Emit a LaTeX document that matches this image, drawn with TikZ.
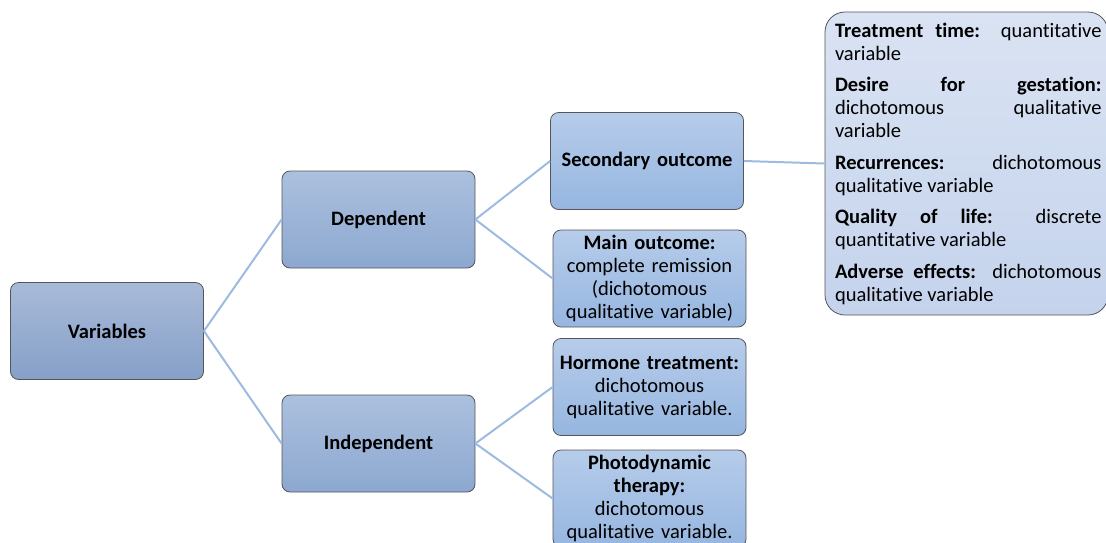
\documentclass[tikz,border=0pt]{standalone}
\usepackage{fontspec}
\setmainfont{Carlito}[Ligatures=NoCommon]
\definecolor{bord}{RGB}{85,85,90}
\definecolor{conn}{RGB}{157,187,224}
\definecolor{aT}{RGB}{168,186,216}
\definecolor{aB}{RGB}{134,160,200}
\definecolor{bT}{RGB}{172,192,222}
\definecolor{bB}{RGB}{140,168,208}
\definecolor{cT}{RGB}{182,204,234}
\definecolor{cB}{RGB}{150,182,224}
\definecolor{dT}{RGB}{218,227,243}
\definecolor{dB}{RGB}{196,211,236}
\tikzset{
  box/.style={draw=bord, line width=0.8pt, rounded corners=8pt, minimum width=193pt, minimum height=97pt,
    inner sep=2pt, text width=189pt, align=center, font=\fontsize{20.5}{23}\selectfont},
  lvA/.style={box, top color=aT, bottom color=aB},
  lvB/.style={box, top color=bT, bottom color=bB},
  lvC/.style={box, top color=cT, bottom color=cB},
  infobox/.style={draw=bord, line width=0.8pt, rounded corners=20pt, top color=dT, bottom color=dB,
    minimum width=283pt, minimum height=303pt, inner xsep=5.5pt, text width=272pt, align=justify,
    font=\fontsize{20.5}{23}\selectfont},
  link/.style={draw=conn, line width=2pt}
}
\begin{document}
\begin{tikzpicture}[x=1pt,y=-1pt]
\useasboundingbox (0,0) rectangle (1106,542);
\clip (0,0) rectangle (1106,542);
\node[lvA] (var) at (107,331) {\textbf{Variables}};
\node[lvB] (dep) at (378.5,219.5) {\textbf{Dependent}};
\node[lvB] (ind) at (378.5,443.5) {\textbf{Independent}};
\node[lvC] (sec) at (647,161) {\textbf{Secondary outcome}};
\node[lvC] (main) at (649.5,278.5) {\textbf{Main outcome:}\\complete remission\\(dichotomous\\qualitative variable)};
\node[lvC] (horm) at (649.5,387) {\textbf{Hormone treatment:}\\dichotomous\\qualitative variable.};
\node[lvC] (photo) at (649.5,498.5) {\textbf{Photodynamic}\\\textbf{therapy:}\\dichotomous\\qualitative variable.};
\node[infobox] (info) at (966.5,163.5) {\hyphenpenalty=10000\exhyphenpenalty=10000\leftskip=4.5pt\rightskip=1pt\setlength{\parskip}{8.5pt}%
\textbf{Treatment time:} quantitative variable\par
\textbf{Desire for gestation:} dichotomous qualitative variable\par
\textbf{Recurrences:} dichotomous qualitative variable\par
\textbf{Quality of life:} discrete quantitative variable\par
\textbf{Adverse effects:} dichotomous qualitative variable\par};
\draw[link] (var.east) -- (dep.west);
\draw[link] (var.east) -- (ind.west);
\draw[link] (dep.east) -- (sec.west);
\draw[link] (dep.east) -- (main.west);
\draw[link] (ind.east) -- (horm.west);
\draw[link] (ind.east) -- (photo.west);
\draw[link] (sec.east) -- (info.west);
\end{tikzpicture}
\end{document}
